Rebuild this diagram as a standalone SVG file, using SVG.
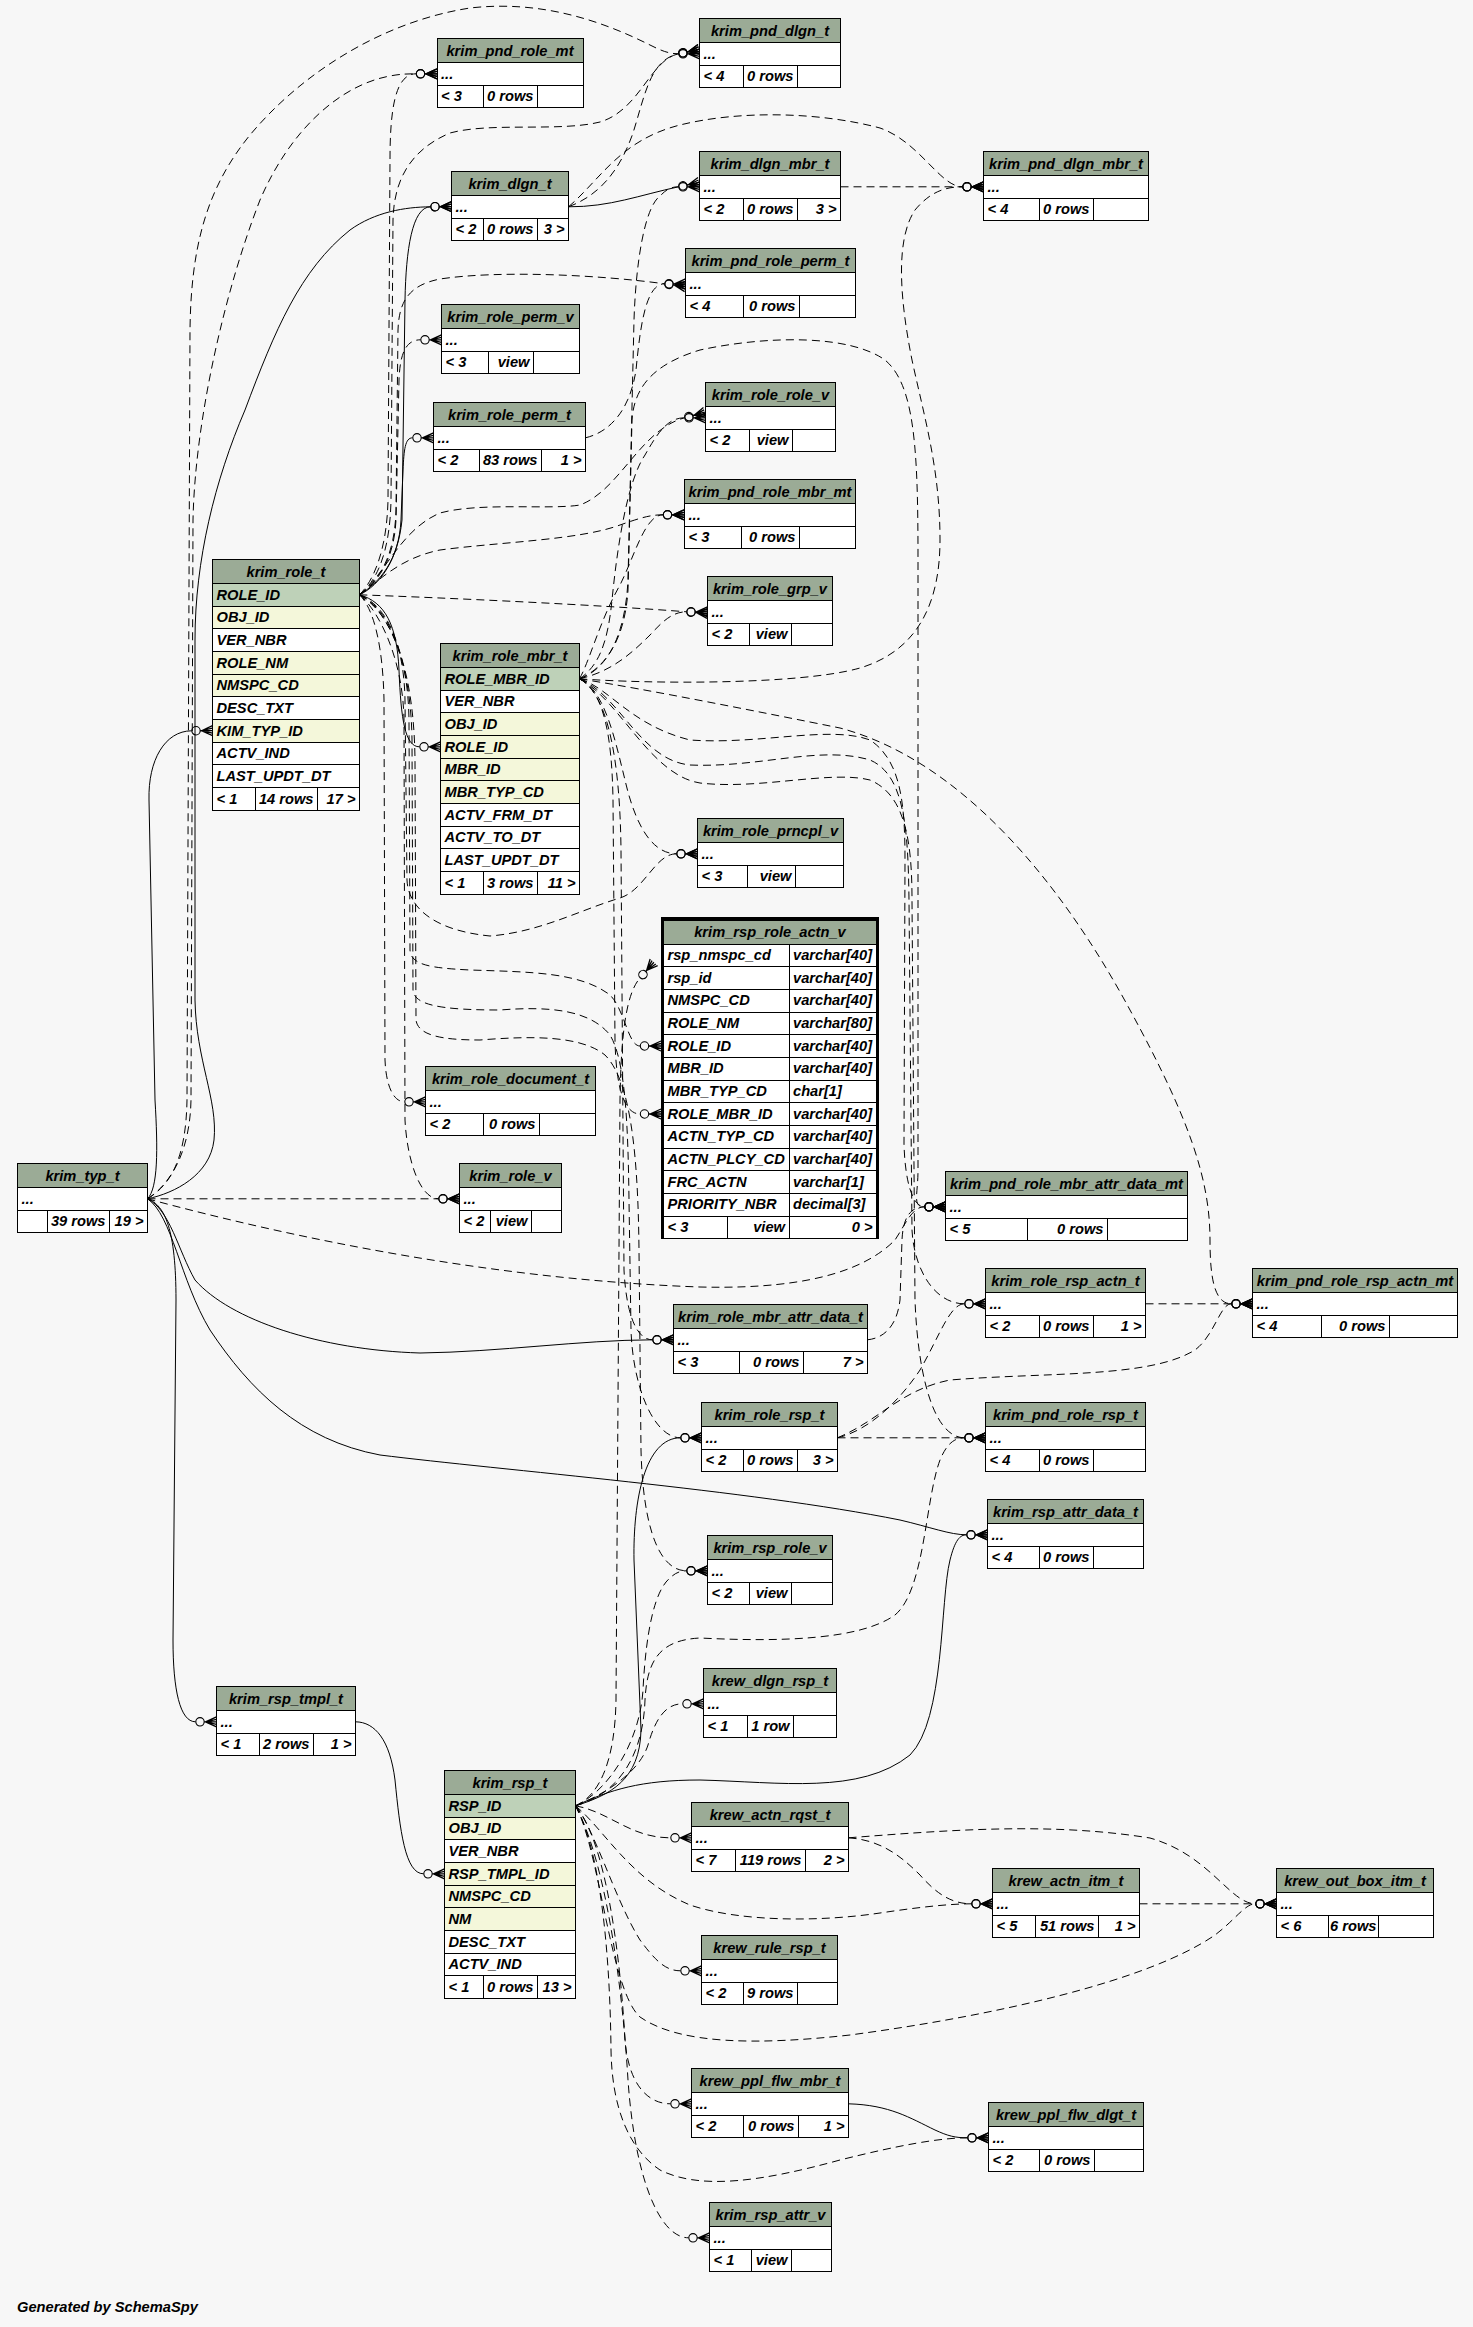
<svg xmlns="http://www.w3.org/2000/svg" width="1473" height="2327" viewBox="0 0 1473 2327">
<style>
.hd{fill:#9bab96;stroke:#000;stroke-width:1}
.c{fill:#fff;stroke:#000;stroke-width:1}
.pk{fill:#bed1b8;stroke:#000;stroke-width:1}
.ix{fill:#f4f7da;stroke:#000;stroke-width:1}
.ln{fill:none;stroke:#000;stroke-width:1}
text{font-family:"Liberation Sans",Arial,Helvetica,sans-serif;font-weight:bold;font-style:italic;font-size:14.67px;fill:#000}
.m{text-anchor:middle}
.e{text-anchor:end}
.s{fill:none;stroke:#000;stroke-width:1;marker-end:url(#cf)}
.d{fill:none;stroke:#000;stroke-width:1;stroke-dasharray:8,5;marker-end:url(#cf)}
.tb{shape-rendering:crispEdges}
</style>
<defs>
<marker id="cf" viewBox="0 0 21 14" refX="0" refY="7" markerWidth="21" markerHeight="14" orient="auto" markerUnits="userSpaceOnUse" overflow="visible">
<circle cx="4.5" cy="7" r="4.2" fill="none" stroke="#000" stroke-width="1.1"/>
<path d="M8.7,7 H21 M10,7 L21,2 M10,7 L21,12 M10,7 L21,4.5 M10,7 L21,9.5" fill="none" stroke="#000" stroke-width="1.3"/>
</marker>
</defs>
<rect x="0" y="0" width="1473" height="2327" fill="#f7f7f7"/>

<g id="connectors">
<path class="s" d="M147.5,1198.8 C175,1193 210,1175 214,1140 C218,1100 196,1060 195,1000 L195,640 C195,560 215,480 245,410 C275,330 300,270 350,230 C375,212 405,207 430.5,206.8"/>
<path class="d" d="M147.5,1198.8 C170,1185 186,1160 187,1100 L190,330 C191,250 205,190 250,135 C300,75 380,22 470,8 C540,0 600,20 650,45 C660,50 668,53.8 678.5,53.8"/>
<path class="d" d="M147.5,1198.8 C172,1183 190,1150 191,1100 L193,520 C195,420 225,290 260,200 C290,130 340,85 390,76 C400,74 408,73.8 416,73.8"/>
<path class="s" d="M147.5,1198.8 C158,1188 158,1150 155,1100 L149,800 C148,760 165,731 191.5,730.8"/>
<path class="d" d="M147.5,1198.8 L438.5,1198.8"/>
<path class="d" d="M147.5,1198.8 C300,1240 500,1280 700,1287 C820,1290 870,1265 895,1240 C905,1225 912,1206.8 924.5,1206.8"/>
<path class="s" d="M147.5,1198.8 C170,1210 178,1250 195,1280 C230,1320 320,1350 420,1353 C500,1352 580,1340 652.5,1339.8"/>
<path class="s" d="M147.5,1198.8 C172,1215 180,1280 210,1330 C250,1390 300,1440 380,1455 C500,1470 750,1490 900,1520 C930,1527 950,1534.8 966.5,1534.8"/>
<path class="s" d="M147.5,1198.8 C165,1205 176,1230 176,1300 L173,1640 C173,1690 180,1721.8 195.5,1721.8"/>

<path class="s" d="M568.5,206.8 C610,207 640,195 678.5,186.8"/>
<path class="d" d="M568.5,206.8 C600,195 620,170 633,133 C645,95 650,60 678.5,53.8"/>
<path class="d" d="M568.5,206.8 C600,180 620,140 680,125 C740,110 820,112 880,128 C920,142 940,186.8 962.5,186.8"/>
<path class="d" d="M840.5,186.8 L962.5,186.8"/>

<path class="s" d="M359.5,594.8 C380,585 398,560 402,520 L405,300 C406,250 412,207 430.5,206.8"/>
<path class="d" d="M359.5,594.8 C378,580 390,550 391,500 L393,220 C394,180 410,150 450,133 C490,122 560,132 600,122 C640,110 650,60 678.5,53.8"/>
<path class="d" d="M359.5,594.8 C376,578 387,545 388,500 L390,160 C390,110 395,73.8 416,73.8"/>
<path class="d" d="M359.5,594.8 C380,580 395,555 396,510 L398,330 C399,300 410,285 440,279 C500,270 600,275 664.5,283.8"/>
<path class="d" d="M359.5,594.8 C378,582 394,560 396,520 L399,380 C400,355 405,339.8 420.5,339.8"/>
<path class="s" d="M359.5,594.8 C380,582 399,560 401,520 L403,470 C404,450 405,437.8 412.5,437.8"/>
<path class="d" d="M359.5,594.8 C385,575 400,530 440,513 C480,502 550,510 580,505 C620,490 640,430 684.5,417.8"/>
<path class="d" d="M359.5,594.8 C380,580 400,558 440,550 C500,542 580,540 620,525 C640,518 650,514.8 663,514.8"/>
<path class="d" d="M359.5,594.8 C450,598 600,605 686.5,611.8"/>
<path class="s" d="M359.5,594.8 C385,602 397,625 399,670 C401,720 405,746.8 419.5,746.8"/>
<path class="d" d="M359.5,594.8 C385,605 404,640 405,700 L407,880 C408,905 430,930 490,936 C540,932 580,910 620,898 C645,890 655,853.8 676.5,853.8"/>
<path class="d" d="M359.5,594.8 C387,608 408,650 409,720 L410,950 C411,965 430,968 470,970 C530,972 580,972 610,995 C625,1010 628,1046 640,1046"/>
<path class="d" d="M359.5,594.8 C375,610 383,650 384,700 L385,1060 C386,1085 393,1101.8 404.5,1101.8"/>
<path class="d" d="M359.5,594.8 C380,612 403,660 404,720 L405,1120 C407,1160 420,1198.8 438.5,1198.8"/>
<path class="d" d="M359.5,594.8 C388,610 411,660 412,740 L413,990 C414,1005 440,1010 500,1010 C550,1006 590,1010 610,1035 C625,1060 628,1120 629,1200 L631,1330 C633,1390 655,1437.8 680.5,1437.8"/>
<path class="d" d="M359.5,594.8 C390,612 414,665 415,760 L416,1020 C418,1035 440,1040 480,1040 C530,1036 580,1035 605,1055 C630,1080 638,1150 639,1250 L641,1450 C643,1530 660,1570.8 686.5,1570.8"/>

<path class="d" d="M585.5,437.8 C610,432 630,410 636,370 C640,330 645,283.8 664.5,283.8"/>

<path class="d" d="M579.5,678.8 C650,684 800,685 860,668 C920,650 940,600 940,540 C940,470 925,420 912,360 C900,300 895,240 915,210 C930,192 945,186.8 962.5,186.8"/>
<path class="d" d="M579.5,678.8 C605,670 625,640 628,580 L634,320 C636,260 645,207 660,196 C666,190 670,186.8 678.5,186.8"/>
<path class="d" d="M579.5,678.8 C590,660 600,620 620,585 C635,555 645,514.8 663,514.8"/>
<path class="d" d="M579.5,678.8 C610,672 630,655 650,635 C662,622 672,611.8 686.5,611.8"/>
<path class="d" d="M579.5,678.8 C600,665 608,640 612,600 C618,540 628,480 645,455 C658,432 668,417.8 684.5,417.8"/>
<path class="d" d="M579.5,678.8 C605,690 615,740 625,780 C633,815 648,853.8 676.5,853.8"/>
<path class="d" d="M579.5,678.8 C605,692 612,740 613,800 L615,1040 C616,1090 625,1114 640,1114"/>
<path class="d" d="M579.5,678.8 C608,694 620,760 621,850 L624,1270 C626,1310 635,1339.8 652.5,1339.8"/>
<path class="d" d="M579.5,678.8 C650,690 760,712 840,728 C960,760 1060,880 1130,1010 C1190,1120 1210,1180 1210,1240 C1210,1280 1215,1303.8 1231.5,1303.8"/>
<path class="d" d="M579.5,678.8 C610,688 630,725 690,740 C760,745 830,725 870,740 C900,760 905,800 905,860 L904,1144 C905,1180 912,1206.8 924.5,1206.8"/>
<path class="d" d="M579.5,678.8 C620,695 640,760 690,765 C760,768 820,745 870,760 C905,775 908,830 909,900 L912,1230 C914,1270 935,1303.8 964.5,1303.8"/>
<path class="d" d="M579.5,678.8 C620,700 650,775 700,783 C760,790 830,770 870,780 C905,795 912,840 912,900 L915,1300 C918,1380 935,1437.8 964.5,1437.8"/>
<path class="d" d="M579.5,678.8 C605,668 625,640 628,590 L632,420 C634,390 650,365 700,350 C770,335 850,335 885,360 C915,385 918,450 918,560 L918,1170 C918,1195 912,1206.8 924.5,1206.8"/>

<path class="d" d="M867.5,1339.8 C885,1338 897,1325 900,1300 L902,1240 C903,1218 910,1206.8 924.5,1206.8"/>
<path class="d" d="M837.5,1437.8 L964.5,1437.8"/>
<path class="d" d="M837.5,1437.8 C870,1430 900,1400 920,1370 C940,1335 950,1303.8 964.5,1303.8"/>
<path class="d" d="M837.5,1437.8 C880,1420 900,1390 950,1380 C1050,1372 1150,1378 1195,1350 C1215,1335 1220,1303.8 1231.5,1303.8"/>
<path class="d" d="M1145.5,1303.8 L1231.5,1303.8"/>

<path class="s" d="M355.5,1721.8 C375,1722 390,1740 395,1780 C400,1830 405,1873.8 423.5,1873.8"/>

<path class="s" d="M575.5,1805.8 C610,1795 640,1780 641,1730 L634,1560 C633,1500 645,1437.8 680.5,1437.8"/>
<path class="d" d="M575.5,1805.8 C615,1795 643,1760 645,1700 C647,1660 660,1640 700,1638 C780,1642 860,1640 895,1615 C925,1590 925,1500 940,1460 C947,1443 955,1437.8 964.5,1437.8"/>
<path class="s" d="M575.5,1805.8 C610,1790 640,1780 700,1780 C780,1782 860,1795 910,1755 C945,1720 940,1600 950,1560 C955,1540 960,1534.8 966.5,1534.8"/>
<path class="d" d="M575.5,1805.8 C610,1790 640,1740 643,1690 C646,1630 655,1590 670,1578 C675,1573 680,1570.8 686.5,1570.8"/>
<path class="d" d="M575.5,1805.8 C610,1792 640,1770 648,1745 C655,1720 665,1703.8 682.5,1703.8"/>
<path class="d" d="M575.5,1805.8 C600,1795 615,1760 616,1700 L620,1100 C621,1040 625,995 640,978"/>
<path class="d" d="M575.5,1805.8 C610,1812 630,1837.8 670.5,1837.8"/>
<path class="d" d="M575.5,1805.8 C605,1830 630,1880 690,1905 C740,1922 820,1922 880,1913 C920,1907 950,1903.8 971.5,1903.8"/>
<path class="d" d="M575.5,1805.8 C595,1830 615,1900 640,1940 C655,1960 665,1970.8 680.5,1970.8"/>
<path class="d" d="M575.5,1805.8 C600,1850 610,1990 640,2017 C680,2045 760,2045 850,2035 C1000,2015 1150,1980 1215,1935 C1235,1920 1245,1903.8 1255.5,1903.8"/>
<path class="d" d="M575.5,1805.8 C605,1840 620,1950 625,2040 C628,2080 645,2103.8 670.5,2103.8"/>
<path class="d" d="M575.5,1805.8 C600,1850 610,1950 611,2050 C612,2110 630,2150 660,2170 C700,2190 760,2182 840,2160 C900,2145 940,2137.8 967.5,2137.8"/>
<path class="d" d="M575.5,1805.8 C605,1860 622,1980 628,2080 C635,2180 660,2237.8 688.5,2237.8"/>

<path class="d" d="M848.5,1837.8 C880,1840 900,1855 920,1875 C935,1892 950,1903.8 971.5,1903.8"/>
<path class="d" d="M848.5,1837.8 C950,1830 1050,1822 1150,1838 C1210,1855 1230,1903.8 1255.5,1903.8"/>
<path class="d" d="M1139.5,1903.8 L1255.5,1903.8"/>
<path class="s" d="M848.5,2103.8 C890,2105 910,2118 935,2130 C948,2136 955,2137.8 967.5,2137.8"/>
</g>

<g id="krim_pnd_role_mt" class="tb">
<rect class="hd" x="437" y="38.5" width="146" height="24"/><rect class="c" x="437" y="62.5" width="146" height="22.67"/><rect class="c" x="437" y="85.17" width="146" height="22.67"/>
<path class="ln" d="M483.5,85.17V107.83M537.5,85.17V107.83"/>
<text class="m" x="510" y="55.5">krim_pnd_role_mt</text><text x="441" y="78.5">...</text>
<text x="441" y="101.17">&lt; 3</text><text class="e" x="533.5" y="101.17">0 rows</text>
</g>
<g id="krim_pnd_dlgn_t" class="tb">
<rect class="hd" x="699.5" y="18.5" width="141" height="24"/><rect class="c" x="699.5" y="42.5" width="141" height="22.67"/><rect class="c" x="699.5" y="65.17" width="141" height="22.67"/>
<path class="ln" d="M743.5,65.17V87.83M797.5,65.17V87.83"/>
<text class="m" x="770" y="35.5">krim_pnd_dlgn_t</text><text x="703.5" y="58.5">...</text>
<text x="703.5" y="81.17">&lt; 4</text><text class="e" x="793.5" y="81.17">0 rows</text>
</g>
<g id="krim_dlgn_t" class="tb">
<rect class="hd" x="451.5" y="171.5" width="117" height="24"/><rect class="c" x="451.5" y="195.5" width="117" height="22.67"/><rect class="c" x="451.5" y="218.17" width="117" height="22.67"/>
<path class="ln" d="M483.5,218.17V240.83M537.5,218.17V240.83"/>
<text class="m" x="510" y="188.5">krim_dlgn_t</text><text x="455.5" y="211.5">...</text>
<text x="455.5" y="234.17">&lt; 2</text><text class="e" x="533.5" y="234.17">0 rows</text><text class="e" x="564.5" y="234.17">3 &gt;</text>
</g>
<g id="krim_dlgn_mbr_t" class="tb">
<rect class="hd" x="699.5" y="151.5" width="141" height="24"/><rect class="c" x="699.5" y="175.5" width="141" height="22.67"/><rect class="c" x="699.5" y="198.17" width="141" height="22.67"/>
<path class="ln" d="M743.5,198.17V220.83M797.5,198.17V220.83"/>
<text class="m" x="770" y="168.5">krim_dlgn_mbr_t</text><text x="703.5" y="191.5">...</text>
<text x="703.5" y="214.17">&lt; 2</text><text class="e" x="793.5" y="214.17">0 rows</text><text class="e" x="836.5" y="214.17">3 &gt;</text>
</g>
<g id="krim_pnd_dlgn_mbr_t" class="tb">
<rect class="hd" x="983.5" y="151.5" width="165" height="24"/><rect class="c" x="983.5" y="175.5" width="165" height="22.67"/><rect class="c" x="983.5" y="198.17" width="165" height="22.67"/>
<path class="ln" d="M1039.5,198.17V220.83M1093.5,198.17V220.83"/>
<text class="m" x="1066" y="168.5">krim_pnd_dlgn_mbr_t</text><text x="987.5" y="191.5">...</text>
<text x="987.5" y="214.17">&lt; 4</text><text class="e" x="1089.5" y="214.17">0 rows</text>
</g>
<g id="krim_pnd_role_perm_t" class="tb">
<rect class="hd" x="685.5" y="248.5" width="170" height="24"/><rect class="c" x="685.5" y="272.5" width="170" height="22.67"/><rect class="c" x="685.5" y="295.17" width="170" height="22.67"/>
<path class="ln" d="M743.5,295.17V317.83M799.5,295.17V317.83"/>
<text class="m" x="770.5" y="265.5">krim_pnd_role_perm_t</text><text x="689.5" y="288.5">...</text>
<text x="689.5" y="311.17">&lt; 4</text><text class="e" x="795.5" y="311.17">0 rows</text>
</g>
<g id="krim_role_perm_v" class="tb">
<rect class="hd" x="441.5" y="304.5" width="138" height="24"/><rect class="c" x="441.5" y="328.5" width="138" height="22.67"/><rect class="c" x="441.5" y="351.17" width="138" height="22.67"/>
<path class="ln" d="M488.5,351.17V373.83M533.5,351.17V373.83"/>
<text class="m" x="510.5" y="321.5">krim_role_perm_v</text><text x="445.5" y="344.5">...</text>
<text x="445.5" y="367.17">&lt; 3</text><text class="e" x="529.5" y="367.17">view</text>
</g>
<g id="krim_role_perm_t" class="tb">
<rect class="hd" x="433.5" y="402.5" width="152" height="24"/><rect class="c" x="433.5" y="426.5" width="152" height="22.67"/><rect class="c" x="433.5" y="449.17" width="152" height="22.67"/>
<path class="ln" d="M479.5,449.17V471.83M541.5,449.17V471.83"/>
<text class="m" x="509.5" y="419.5">krim_role_perm_t</text><text x="437.5" y="442.5">...</text>
<text x="437.5" y="465.17">&lt; 2</text><text class="e" x="537.5" y="465.17">83 rows</text><text class="e" x="581.5" y="465.17">1 &gt;</text>
</g>
<g id="krim_role_role_v" class="tb">
<rect class="hd" x="705.5" y="382.5" width="130" height="24"/><rect class="c" x="705.5" y="406.5" width="130" height="22.67"/><rect class="c" x="705.5" y="429.17" width="130" height="22.67"/>
<path class="ln" d="M749.5,429.17V451.83M792.5,429.17V451.83"/>
<text class="m" x="770.5" y="399.5">krim_role_role_v</text><text x="709.5" y="422.5">...</text>
<text x="709.5" y="445.17">&lt; 2</text><text class="e" x="788.5" y="445.17">view</text>
</g>
<g id="krim_pnd_role_mbr_mt" class="tb">
<rect class="hd" x="684.5" y="479.5" width="171" height="24"/><rect class="c" x="684.5" y="503.5" width="171" height="22.67"/><rect class="c" x="684.5" y="526.17" width="171" height="22.67"/>
<path class="ln" d="M741.5,526.17V548.83M799.5,526.17V548.83"/>
<text class="m" x="770" y="496.5">krim_pnd_role_mbr_mt</text><text x="688.5" y="519.5">...</text>
<text x="688.5" y="542.17">&lt; 3</text><text class="e" x="795.5" y="542.17">0 rows</text>
</g>
<g id="krim_role_grp_v" class="tb">
<rect class="hd" x="707.5" y="576.5" width="125" height="24"/><rect class="c" x="707.5" y="600.5" width="125" height="22.67"/><rect class="c" x="707.5" y="623.17" width="125" height="22.67"/>
<path class="ln" d="M749.5,623.17V645.83M791.5,623.17V645.83"/>
<text class="m" x="770" y="593.5">krim_role_grp_v</text><text x="711.5" y="616.5">...</text>
<text x="711.5" y="639.17">&lt; 2</text><text class="e" x="787.5" y="639.17">view</text>
</g>

<g id="krim_role_t" class="tb">
<rect class="hd" x="212.5" y="559.5" width="147" height="24"/>
<rect class="pk" x="212.5" y="583.5" width="147" height="22.67"/>
<rect class="ix" x="212.5" y="606.17" width="147" height="22.67"/>
<rect class="c" x="212.5" y="628.83" width="147" height="22.67"/>
<rect class="ix" x="212.5" y="651.5" width="147" height="22.67"/>
<rect class="ix" x="212.5" y="674.17" width="147" height="22.67"/>
<rect class="c" x="212.5" y="696.83" width="147" height="22.67"/>
<rect class="ix" x="212.5" y="719.5" width="147" height="22.67"/>
<rect class="c" x="212.5" y="742.17" width="147" height="22.67"/>
<rect class="c" x="212.5" y="764.83" width="147" height="22.67"/>
<rect class="c" x="212.5" y="787.5" width="147" height="22.67"/>
<path class="ln" d="M255.5,787.5V810.17M317.5,787.5V810.17"/>
<text class="m" x="286" y="576.5">krim_role_t</text>
<text x="216.5" y="599.5">ROLE_ID</text>
<text x="216.5" y="622.17">OBJ_ID</text>
<text x="216.5" y="644.83">VER_NBR</text>
<text x="216.5" y="667.5">ROLE_NM</text>
<text x="216.5" y="690.17">NMSPC_CD</text>
<text x="216.5" y="712.83">DESC_TXT</text>
<text x="216.5" y="735.5">KIM_TYP_ID</text>
<text x="216.5" y="758.17">ACTV_IND</text>
<text x="216.5" y="780.83">LAST_UPDT_DT</text>
<text x="216.5" y="803.5">&lt; 1</text><text class="e" x="313.5" y="803.5">14 rows</text><text class="e" x="355.5" y="803.5">17 &gt;</text>
</g>

<g id="krim_role_mbr_t" class="tb">
<rect class="hd" x="440.5" y="643.5" width="139" height="24"/>
<rect class="pk" x="440.5" y="667.5" width="139" height="22.67"/>
<rect class="c" x="440.5" y="690.17" width="139" height="22.67"/>
<rect class="ix" x="440.5" y="712.83" width="139" height="22.67"/>
<rect class="ix" x="440.5" y="735.5" width="139" height="22.67"/>
<rect class="ix" x="440.5" y="758.17" width="139" height="22.67"/>
<rect class="ix" x="440.5" y="780.83" width="139" height="22.67"/>
<rect class="c" x="440.5" y="803.5" width="139" height="22.67"/>
<rect class="c" x="440.5" y="826.17" width="139" height="22.67"/>
<rect class="c" x="440.5" y="848.83" width="139" height="22.67"/>
<rect class="c" x="440.5" y="871.5" width="139" height="22.67"/>
<path class="ln" d="M483.5,871.5V894.17M537.5,871.5V894.17"/>
<text class="m" x="510" y="660.5">krim_role_mbr_t</text>
<text x="444.5" y="683.5">ROLE_MBR_ID</text>
<text x="444.5" y="706.17">VER_NBR</text>
<text x="444.5" y="728.83">OBJ_ID</text>
<text x="444.5" y="751.5">ROLE_ID</text>
<text x="444.5" y="774.17">MBR_ID</text>
<text x="444.5" y="796.83">MBR_TYP_CD</text>
<text x="444.5" y="819.5">ACTV_FRM_DT</text>
<text x="444.5" y="842.17">ACTV_TO_DT</text>
<text x="444.5" y="864.83">LAST_UPDT_DT</text>
<text x="444.5" y="887.5">&lt; 1</text><text class="e" x="533.5" y="887.5">3 rows</text><text class="e" x="575.5" y="887.5">11 &gt;</text>
</g>

<g id="krim_role_prncpl_v" class="tb">
<rect class="hd" x="697.5" y="818.5" width="146" height="24"/><rect class="c" x="697.5" y="842.5" width="146" height="22.67"/><rect class="c" x="697.5" y="865.17" width="146" height="22.67"/>
<path class="ln" d="M747.5,865.17V887.83M795.5,865.17V887.83"/>
<text class="m" x="770.5" y="835.5">krim_role_prncpl_v</text><text x="701.5" y="858.5">...</text>
<text x="701.5" y="881.17">&lt; 3</text><text class="e" x="791.5" y="881.17">view</text>
</g>

<g id="krim_rsp_role_actn_v" class="tb">
<rect x="662.3" y="918.2" width="215.1" height="319.6" fill="none" stroke="#000" stroke-width="3"/>
<rect class="hd" x="663.5" y="920" width="213" height="24"/>
<rect class="c" x="663.5" y="944" width="213" height="22.67"/>
<rect class="c" x="663.5" y="966.67" width="213" height="22.67"/>
<rect class="c" x="663.5" y="989.33" width="213" height="22.67"/>
<rect class="c" x="663.5" y="1012" width="213" height="22.67"/>
<rect class="c" x="663.5" y="1034.67" width="213" height="22.67"/>
<rect class="c" x="663.5" y="1057.33" width="213" height="22.67"/>
<rect class="c" x="663.5" y="1080" width="213" height="22.67"/>
<rect class="c" x="663.5" y="1102.67" width="213" height="22.67"/>
<rect class="c" x="663.5" y="1125.33" width="213" height="22.67"/>
<rect class="c" x="663.5" y="1148" width="213" height="22.67"/>
<rect class="c" x="663.5" y="1170.67" width="213" height="22.67"/>
<rect class="c" x="663.5" y="1193.33" width="213" height="22.67"/>
<rect class="c" x="663.5" y="1216" width="213" height="22.67"/>
<path class="ln" d="M789,944V1238.67M727.5,1216V1238.67"/>
<text class="m" x="770" y="937">krim_rsp_role_actn_v</text>
<text x="667.5" y="960">rsp_nmspc_cd</text><text x="793" y="960">varchar[40]</text>
<text x="667.5" y="982.67">rsp_id</text><text x="793" y="982.67">varchar[40]</text>
<text x="667.5" y="1005.33">NMSPC_CD</text><text x="793" y="1005.33">varchar[40]</text>
<text x="667.5" y="1028">ROLE_NM</text><text x="793" y="1028">varchar[80]</text>
<text x="667.5" y="1050.67">ROLE_ID</text><text x="793" y="1050.67">varchar[40]</text>
<text x="667.5" y="1073.33">MBR_ID</text><text x="793" y="1073.33">varchar[40]</text>
<text x="667.5" y="1096">MBR_TYP_CD</text><text x="793" y="1096">char[1]</text>
<text x="667.5" y="1118.67">ROLE_MBR_ID</text><text x="793" y="1118.67">varchar[40]</text>
<text x="667.5" y="1141.33">ACTN_TYP_CD</text><text x="793" y="1141.33">varchar[40]</text>
<text x="667.5" y="1164">ACTN_PLCY_CD</text><text x="793" y="1164">varchar[40]</text>
<text x="667.5" y="1186.67">FRC_ACTN</text><text x="793" y="1186.67">varchar[1]</text>
<text x="667.5" y="1209.33">PRIORITY_NBR</text><text x="793" y="1209.33">decimal[3]</text>
<text x="667.5" y="1232">&lt; 3</text><text class="e" x="785" y="1232">view</text><text class="e" x="872.5" y="1232">0 &gt;</text>
</g>

<g id="krim_role_document_t" class="tb">
<rect class="hd" x="425.5" y="1066.5" width="170" height="24"/><rect class="c" x="425.5" y="1090.5" width="170" height="22.67"/><rect class="c" x="425.5" y="1113.17" width="170" height="22.67"/>
<path class="ln" d="M483.5,1113.17V1135.83M539.5,1113.17V1135.83"/>
<text class="m" x="510.5" y="1083.5">krim_role_document_t</text><text x="429.5" y="1106.5">...</text>
<text x="429.5" y="1129.17">&lt; 2</text><text class="e" x="535.5" y="1129.17">0 rows</text>
</g>
<g id="krim_role_v" class="tb">
<rect class="hd" x="459.5" y="1163.5" width="102" height="24"/><rect class="c" x="459.5" y="1187.5" width="102" height="22.67"/><rect class="c" x="459.5" y="1210.17" width="102" height="22.67"/>
<path class="ln" d="M490.5,1210.17V1232.83M531.5,1210.17V1232.83"/>
<text class="m" x="510.5" y="1180.5">krim_role_v</text><text x="463.5" y="1203.5">...</text>
<text x="463.5" y="1226.17">&lt; 2</text><text class="e" x="527.5" y="1226.17">view</text>
</g>
<g id="krim_typ_t" class="tb">
<rect class="hd" x="17.5" y="1163.5" width="130" height="24"/><rect class="c" x="17.5" y="1187.5" width="130" height="22.67"/><rect class="c" x="17.5" y="1210.17" width="130" height="22.67"/>
<path class="ln" d="M47.5,1210.17V1232.83M109.5,1210.17V1232.83"/>
<text class="m" x="82.5" y="1180.5">krim_typ_t</text><text x="21.5" y="1203.5">...</text>
<text class="e" x="105.5" y="1226.17">39 rows</text><text class="e" x="143.5" y="1226.17">19 &gt;</text>
</g>
<g id="krim_pnd_role_mbr_attr_data_mt" class="tb">
<rect class="hd" x="945.5" y="1171.5" width="242" height="24"/><rect class="c" x="945.5" y="1195.5" width="242" height="22.67"/><rect class="c" x="945.5" y="1218.17" width="242" height="22.67"/>
<path class="ln" d="M1027.5,1218.17V1240.83M1107.5,1218.17V1240.83"/>
<text class="m" x="1066.5" y="1188.5">krim_pnd_role_mbr_attr_data_mt</text><text x="949.5" y="1211.5">...</text>
<text x="949.5" y="1234.17">&lt; 5</text><text class="e" x="1103.5" y="1234.17">0 rows</text>
</g>
<g id="krim_role_rsp_actn_t" class="tb">
<rect class="hd" x="985.5" y="1268.5" width="160" height="24"/><rect class="c" x="985.5" y="1292.5" width="160" height="22.67"/><rect class="c" x="985.5" y="1315.17" width="160" height="22.67"/>
<path class="ln" d="M1039.5,1315.17V1337.83M1093.5,1315.17V1337.83"/>
<text class="m" x="1065.5" y="1285.5">krim_role_rsp_actn_t</text><text x="989.5" y="1308.5">...</text>
<text x="989.5" y="1331.17">&lt; 2</text><text class="e" x="1089.5" y="1331.17">0 rows</text><text class="e" x="1141.5" y="1331.17">1 &gt;</text>
</g>
<g id="krim_pnd_role_rsp_actn_mt" class="tb">
<rect class="hd" x="1252.5" y="1268.5" width="205" height="24"/><rect class="c" x="1252.5" y="1292.5" width="205" height="22.67"/><rect class="c" x="1252.5" y="1315.17" width="205" height="22.67"/>
<path class="ln" d="M1321.5,1315.17V1337.83M1389.5,1315.17V1337.83"/>
<text class="m" x="1355" y="1285.5">krim_pnd_role_rsp_actn_mt</text><text x="1256.5" y="1308.5">...</text>
<text x="1256.5" y="1331.17">&lt; 4</text><text class="e" x="1385.5" y="1331.17">0 rows</text>
</g>
<g id="krim_role_mbr_attr_data_t" class="tb">
<rect class="hd" x="673.5" y="1304.5" width="194" height="24"/><rect class="c" x="673.5" y="1328.5" width="194" height="22.67"/><rect class="c" x="673.5" y="1351.17" width="194" height="22.67"/>
<path class="ln" d="M739.5,1351.17V1373.83M803.5,1351.17V1373.83"/>
<text class="m" x="770.5" y="1321.5">krim_role_mbr_attr_data_t</text><text x="677.5" y="1344.5">...</text>
<text x="677.5" y="1367.17">&lt; 3</text><text class="e" x="799.5" y="1367.17">0 rows</text><text class="e" x="863.5" y="1367.17">7 &gt;</text>
</g>
<g id="krim_role_rsp_t" class="tb">
<rect class="hd" x="701.5" y="1402.5" width="136" height="24"/><rect class="c" x="701.5" y="1426.5" width="136" height="22.67"/><rect class="c" x="701.5" y="1449.17" width="136" height="22.67"/>
<path class="ln" d="M743.5,1449.17V1471.83M797.5,1449.17V1471.83"/>
<text class="m" x="769.5" y="1419.5">krim_role_rsp_t</text><text x="705.5" y="1442.5">...</text>
<text x="705.5" y="1465.17">&lt; 2</text><text class="e" x="793.5" y="1465.17">0 rows</text><text class="e" x="833.5" y="1465.17">3 &gt;</text>
</g>
<g id="krim_pnd_role_rsp_t" class="tb">
<rect class="hd" x="985.5" y="1402.5" width="160" height="24"/><rect class="c" x="985.5" y="1426.5" width="160" height="22.67"/><rect class="c" x="985.5" y="1449.17" width="160" height="22.67"/>
<path class="ln" d="M1039.5,1449.17V1471.83M1093.5,1449.17V1471.83"/>
<text class="m" x="1065.5" y="1419.5">krim_pnd_role_rsp_t</text><text x="989.5" y="1442.5">...</text>
<text x="989.5" y="1465.17">&lt; 4</text><text class="e" x="1089.5" y="1465.17">0 rows</text>
</g>
<g id="krim_rsp_attr_data_t" class="tb">
<rect class="hd" x="987.5" y="1499.5" width="156" height="24"/><rect class="c" x="987.5" y="1523.5" width="156" height="22.67"/><rect class="c" x="987.5" y="1546.17" width="156" height="22.67"/>
<path class="ln" d="M1039.5,1546.17V1568.83M1093.5,1546.17V1568.83"/>
<text class="m" x="1065.5" y="1516.5">krim_rsp_attr_data_t</text><text x="991.5" y="1539.5">...</text>
<text x="991.5" y="1562.17">&lt; 4</text><text class="e" x="1089.5" y="1562.17">0 rows</text>
</g>
<g id="krim_rsp_role_v" class="tb">
<rect class="hd" x="707.5" y="1535.5" width="125" height="24"/><rect class="c" x="707.5" y="1559.5" width="125" height="22.67"/><rect class="c" x="707.5" y="1582.17" width="125" height="22.67"/>
<path class="ln" d="M749.5,1582.17V1604.83M791.5,1582.17V1604.83"/>
<text class="m" x="770" y="1552.5">krim_rsp_role_v</text><text x="711.5" y="1575.5">...</text>
<text x="711.5" y="1598.17">&lt; 2</text><text class="e" x="787.5" y="1598.17">view</text>
</g>
<g id="krew_dlgn_rsp_t" class="tb">
<rect class="hd" x="703.5" y="1668.5" width="133" height="24"/><rect class="c" x="703.5" y="1692.5" width="133" height="22.67"/><rect class="c" x="703.5" y="1715.17" width="133" height="22.67"/>
<path class="ln" d="M747.5,1715.17V1737.83M793.5,1715.17V1737.83"/>
<text class="m" x="770" y="1685.5">krew_dlgn_rsp_t</text><text x="707.5" y="1708.5">...</text>
<text x="707.5" y="1731.17">&lt; 1</text><text class="e" x="789.5" y="1731.17">1 row</text>
</g>
<g id="krim_rsp_tmpl_t" class="tb">
<rect class="hd" x="216.5" y="1686.5" width="139" height="24"/><rect class="c" x="216.5" y="1710.5" width="139" height="22.67"/><rect class="c" x="216.5" y="1733.17" width="139" height="22.67"/>
<path class="ln" d="M259.5,1733.17V1755.83M313.5,1733.17V1755.83"/>
<text class="m" x="286" y="1703.5">krim_rsp_tmpl_t</text><text x="220.5" y="1726.5">...</text>
<text x="220.5" y="1749.17">&lt; 1</text><text class="e" x="309.5" y="1749.17">2 rows</text><text class="e" x="351.5" y="1749.17">1 &gt;</text>
</g>

<g id="krim_rsp_t" class="tb">
<rect class="hd" x="444.5" y="1770.5" width="131" height="24"/>
<rect class="pk" x="444.5" y="1794.5" width="131" height="22.67"/>
<rect class="ix" x="444.5" y="1817.17" width="131" height="22.67"/>
<rect class="c" x="444.5" y="1839.83" width="131" height="22.67"/>
<rect class="ix" x="444.5" y="1862.5" width="131" height="22.67"/>
<rect class="ix" x="444.5" y="1885.17" width="131" height="22.67"/>
<rect class="ix" x="444.5" y="1907.83" width="131" height="22.67"/>
<rect class="c" x="444.5" y="1930.5" width="131" height="22.67"/>
<rect class="c" x="444.5" y="1953.17" width="131" height="22.67"/>
<rect class="c" x="444.5" y="1975.83" width="131" height="22.67"/>
<path class="ln" d="M483.5,1975.83V1998.5M537.5,1975.83V1998.5"/>
<text class="m" x="510" y="1787.5">krim_rsp_t</text>
<text x="448.5" y="1810.5">RSP_ID</text>
<text x="448.5" y="1833.17">OBJ_ID</text>
<text x="448.5" y="1855.83">VER_NBR</text>
<text x="448.5" y="1878.5">RSP_TMPL_ID</text>
<text x="448.5" y="1901.17">NMSPC_CD</text>
<text x="448.5" y="1923.83">NM</text>
<text x="448.5" y="1946.5">DESC_TXT</text>
<text x="448.5" y="1969.17">ACTV_IND</text>
<text x="448.5" y="1991.83">&lt; 1</text><text class="e" x="533.5" y="1991.83">0 rows</text><text class="e" x="571.5" y="1991.83">13 &gt;</text>
</g>

<g id="krew_actn_rqst_t" class="tb">
<rect class="hd" x="691.5" y="1802.5" width="157" height="24"/><rect class="c" x="691.5" y="1826.5" width="157" height="22.67"/><rect class="c" x="691.5" y="1849.17" width="157" height="22.67"/>
<path class="ln" d="M735.5,1849.17V1871.83M805.5,1849.17V1871.83"/>
<text class="m" x="770" y="1819.5">krew_actn_rqst_t</text><text x="695.5" y="1842.5">...</text>
<text x="695.5" y="1865.17">&lt; 7</text><text class="e" x="801.5" y="1865.17">119 rows</text><text class="e" x="844.5" y="1865.17">2 &gt;</text>
</g>
<g id="krew_actn_itm_t" class="tb">
<rect class="hd" x="992.5" y="1868.5" width="147" height="24"/><rect class="c" x="992.5" y="1892.5" width="147" height="22.67"/><rect class="c" x="992.5" y="1915.17" width="147" height="22.67"/>
<path class="ln" d="M1035.5,1915.17V1937.83M1098.5,1915.17V1937.83"/>
<text class="m" x="1066" y="1885.5">krew_actn_itm_t</text><text x="996.5" y="1908.5">...</text>
<text x="996.5" y="1931.17">&lt; 5</text><text class="e" x="1094.5" y="1931.17">51 rows</text><text class="e" x="1135.5" y="1931.17">1 &gt;</text>
</g>
<g id="krew_out_box_itm_t" class="tb">
<rect class="hd" x="1276.5" y="1868.5" width="157" height="24"/><rect class="c" x="1276.5" y="1892.5" width="157" height="22.67"/><rect class="c" x="1276.5" y="1915.17" width="157" height="22.67"/>
<path class="ln" d="M1328.5,1915.17V1937.83M1378.5,1915.17V1937.83"/>
<text class="m" x="1355" y="1885.5">krew_out_box_itm_t</text><text x="1280.5" y="1908.5">...</text>
<text x="1280.5" y="1931.17">&lt; 6</text><text class="e" x="1376.5" y="1931.17">6 rows</text>
</g>
<g id="krew_rule_rsp_t" class="tb">
<rect class="hd" x="701.5" y="1935.5" width="136" height="24"/><rect class="c" x="701.5" y="1959.5" width="136" height="22.67"/><rect class="c" x="701.5" y="1982.17" width="136" height="22.67"/>
<path class="ln" d="M743.5,1982.17V2004.83M797.5,1982.17V2004.83"/>
<text class="m" x="769.5" y="1952.5">krew_rule_rsp_t</text><text x="705.5" y="1975.5">...</text>
<text x="705.5" y="1998.17">&lt; 2</text><text class="e" x="793.5" y="1998.17">9 rows</text>
</g>
<g id="krew_ppl_flw_mbr_t" class="tb">
<rect class="hd" x="691.5" y="2068.5" width="157" height="24"/><rect class="c" x="691.5" y="2092.5" width="157" height="22.67"/><rect class="c" x="691.5" y="2115.17" width="157" height="22.67"/>
<path class="ln" d="M743.5,2115.17V2137.83M798.5,2115.17V2137.83"/>
<text class="m" x="770" y="2085.5">krew_ppl_flw_mbr_t</text><text x="695.5" y="2108.5">...</text>
<text x="695.5" y="2131.17">&lt; 2</text><text class="e" x="794.5" y="2131.17">0 rows</text><text class="e" x="844.5" y="2131.17">1 &gt;</text>
</g>
<g id="krew_ppl_flw_dlgt_t" class="tb">
<rect class="hd" x="988.5" y="2102.5" width="155" height="24"/><rect class="c" x="988.5" y="2126.5" width="155" height="22.67"/><rect class="c" x="988.5" y="2149.17" width="155" height="22.67"/>
<path class="ln" d="M1039.5,2149.17V2171.83M1094.5,2149.17V2171.83"/>
<text class="m" x="1066" y="2119.5">krew_ppl_flw_dlgt_t</text><text x="992.5" y="2142.5">...</text>
<text x="992.5" y="2165.17">&lt; 2</text><text class="e" x="1090.5" y="2165.17">0 rows</text>
</g>
<g id="krim_rsp_attr_v" class="tb">
<rect class="hd" x="709.5" y="2202.5" width="122" height="24"/><rect class="c" x="709.5" y="2226.5" width="122" height="22.67"/><rect class="c" x="709.5" y="2249.17" width="122" height="22.67"/>
<path class="ln" d="M751.5,2249.17V2271.83M791.5,2249.17V2271.83"/>
<text class="m" x="770.5" y="2219.5">krim_rsp_attr_v</text><text x="713.5" y="2242.5">...</text>
<text x="713.5" y="2265.17">&lt; 1</text><text class="e" x="787.5" y="2265.17">view</text>
</g>

<text x="17" y="2312">Generated by SchemaSpy</text>
</svg>
